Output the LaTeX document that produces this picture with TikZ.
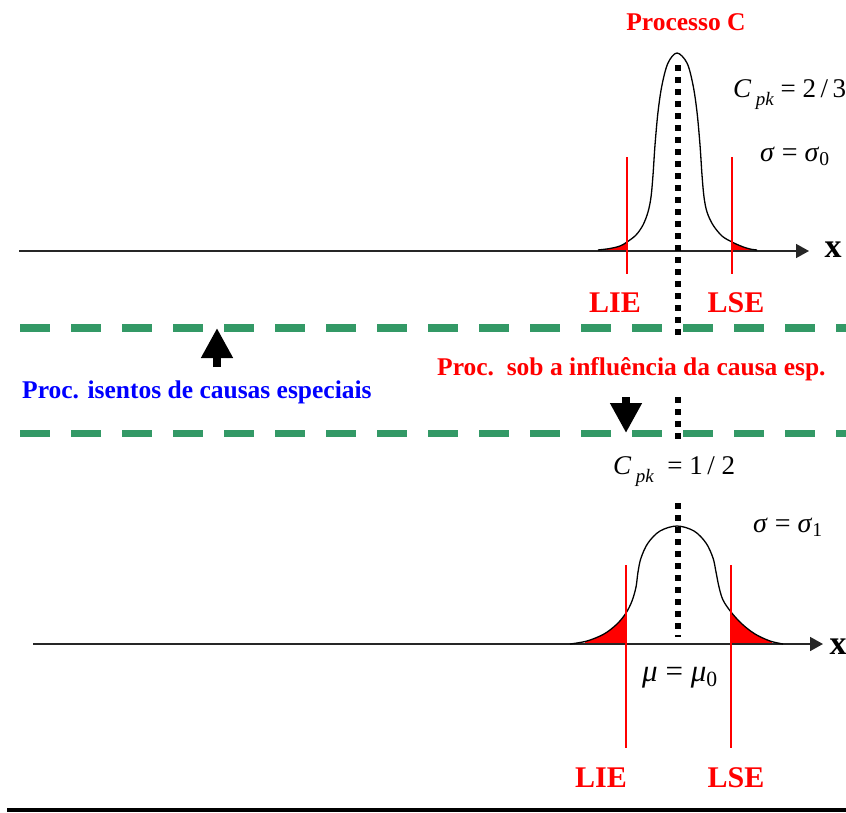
\documentclass[tikz,border=0pt]{standalone}
\usepackage{fontspec}
\setmainfont{Liberation Serif}
\usetikzlibrary{arrows.meta,positioning}
\definecolor{spcgreen}{HTML}{339966}
\definecolor{spcred}{HTML}{FF0000}
\definecolor{spcblue}{HTML}{0000FF}
\newcommand{\Cpk}{\textit{C}\,\raisebox{-0.32em}{\fontsize{19}{20}\selectfont\itshape pk}}
\newcommand{\curveC}{plot[smooth,tension=0.55] coordinates {(598,250) (610,248.5) (620,246) (627,242) (636,235) (643,225) (648,212) (651,197) (653,175) (655,145) (658,112) (662,85) (668,63) (677,53) (687,63) (693,85) (697,112) (700,145) (702,175) (704,197) (707,212) (713,225) (722,236) (732,242) (742,246.5) (750,249) (757,250)}}
\newcommand{\curveD}{plot[smooth,tension=0.55] coordinates {(570,644) (587,641) (604,634) (617,624) (626,613) (632,601) (636,587) (638,572) (641,558) (648,543) (660,531) (677,526) (694,531) (706,543) (713,558) (716,572) (719,587) (723,600) (731,612) (742,624) (755,634) (770,641) (783,644)}}
\tikzset{
  axisln/.style={line width=1.6pt, draw=black!85, -{Triangle[length=13pt,width=14pt]}},
  curveln/.style={line width=1.3pt},
  limln/.style={line width=1.6pt, draw=spcred},
  meanln/.style={line width=6pt, dash pattern=on 6pt off 6pt},
  sepln/.style={line width=7.5pt, draw=spcgreen, dash pattern=on 30pt off 21pt},
  bigar/.style={line width=8pt, -{Triangle[length=30pt,width=30pt]}},
  tag/.style={font=\fontsize{30}{32}\selectfont\bfseries, text=spcred, inner sep=0pt, anchor=base},
  ttl/.style={font=\fontsize{25.5}{27}\selectfont\bfseries, inner sep=0pt, anchor=base west},
  xlbl/.style={font=\fontsize{34}{36}\selectfont\bfseries, inner sep=0pt, anchor=base},
  mlbl/.style={font=\fontsize{27}{29}\selectfont, inner sep=0pt, anchor=base west}
}

\begin{document}
\begin{tikzpicture}[x=1pt,y=-1pt]
  \useasboundingbox (0,0) rectangle (846,812);

  % process C, free of special causes
  \begin{scope} \clip (590,200) rectangle (627,260); \fill[spcred] \curveC -- cycle; \end{scope}
  \begin{scope} \clip (732,200) rectangle (754,260); \fill[spcred] \curveC -- cycle; \end{scope}
  \coordinate (ax0) at (19,251);
  \coordinate (ax1) at (809,251);
  \draw[axisln] (ax0) -- (ax1);
  \draw[curveln] \curveC;
  \draw[limln] (627,157) -- (627,274);
  \draw[limln] (732,157) -- (732,274);
  \node[xlbl] (xA) at (833,257) {x};
  \node[ttl, text=spcred, anchor=base] (procC) at (686,30) {Processo C};
  \node[mlbl] (cpkA) at (733,97) {\Cpk\ = 2\,/\,3};
  \node[mlbl, font=\fontsize{28}{30}\selectfont] (sgA) at (760,161) {\textit{σ} = \textit{σ}\textsubscript{0}};
  \node[tag] (lieA) at (615,312) {LIE};
  \node[tag] (lseA) at (736,312) {LSE};

  % separators
  \draw[sepln] (20,328) -- (846,328);
  \draw[sepln] (20,433.5) -- (846,433.5);
  \coordinate (up0) at (217,367);
  \coordinate (up1) at (217,328);
  \coordinate (dn0) at (626,397);
  \coordinate (dn1) at (626,433);
  \draw[bigar] (up0) -- (up1);
  \draw[bigar] (dn0) -- (dn1);
  \node[ttl, text=spcblue] (isentos) at (22,398) {Proc. isentos de causas especiais};
  \node[ttl, text=spcred] (causa) at (437,375) {Proc.\ \ sob a influência da causa esp.};

  % process under the special cause
  \begin{scope} \clip (585,590) rectangle (626,650); \fill[spcred] \curveD -- cycle; \end{scope}
  \begin{scope} \clip (731,590) rectangle (772,650); \fill[spcred] \curveD -- cycle; \end{scope}
  \coordinate (bx0) at (33,644);
  \coordinate (bx1) at (823,644);
  \draw[axisln] (bx0) -- (bx1);
  \draw[curveln] \curveD;
  \draw[limln] (626,565) -- (626,748);
  \draw[limln] (731,565) -- (731,748);
  \node[xlbl] (xB) at (838,654) {x};
  \node[mlbl] (cpkB) at (613,474) {\Cpk\ \ = 1\,/ 2};
  \node[mlbl, font=\fontsize{28}{30}\selectfont] (sgB) at (753,532) {\textit{σ} = \textit{σ}\textsubscript{1}};
  \node[mlbl, font=\fontsize{31}{33}\selectfont] (muB) at (642,681) {\textit{μ} = \textit{μ}\textsubscript{0}};
  \node[tag] (lieB) at (601,787) {LIE};
  \node[tag] (lseB) at (736,787) {LSE};

  % mean
  \draw[meanln] (678,65) -- (678,338);
  \draw[meanln] (678,397) -- (678,440);
  \draw[meanln] (678,503) -- (678,637);

  \draw[line width=4pt] (7,810) -- (846,810);
\end{tikzpicture}
\end{document}
